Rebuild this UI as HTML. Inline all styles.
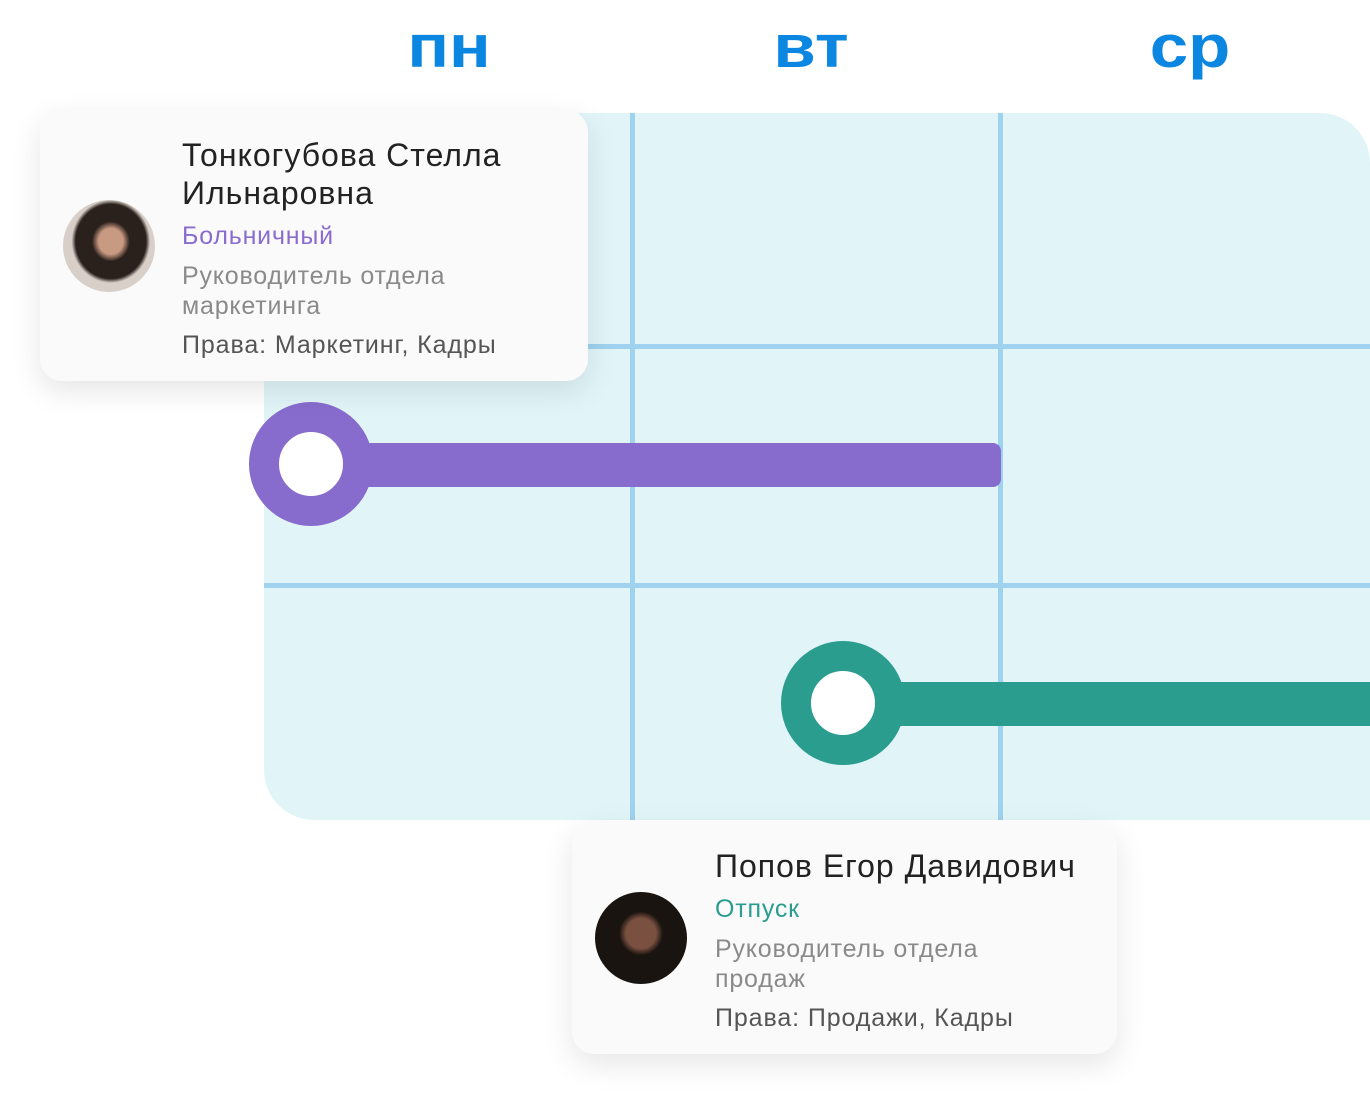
<!DOCTYPE html>
<html><head><meta charset="utf-8"><style>
body{margin:0;width:1370px;height:1096px;background:#fff;position:relative;overflow:hidden;font-family:"Liberation Sans",sans-serif}
.abs{position:absolute}
.day{position:absolute;top:12px;font-size:60px;font-weight:bold;color:#0b87e2;transform:translateX(-50%) scaleX(1.15)}
.card{position:absolute;background:#fafafa;border-radius:22px;box-shadow:0 10px 30px rgba(0,0,0,0.10)}
.t{position:absolute;white-space:nowrap}
.name{font-size:32px;color:#222;line-height:38px;letter-spacing:1px}
.st{font-size:25px;letter-spacing:0.8px}
.g{font-size:25px;color:#8a8a8a;line-height:30px;letter-spacing:0.8px}
.p{font-size:25px;color:#555;letter-spacing:0.9px}
.av{position:absolute;width:92px;height:92px;border-radius:50%}
</style></head><body>
<div class="day" style="left:449px">пн</div>
<div class="day" style="left:811px">вт</div>
<div class="day" style="left:1190px">ср</div>
<svg class="abs" style="left:0;top:0" width="1370" height="1096">
<path d="M314 113 H1320 A50 50 0 0 1 1370 163 V820 H314 A50 50 0 0 1 264 770 V113 Z" fill="#e1f5f9"/>
<rect x="630" y="113" width="5" height="707" fill="#9fd2ef"/>
<rect x="998" y="113" width="5" height="707" fill="#9fd2ef"/>
<rect x="264" y="344" width="1106" height="5" fill="#9fd2ef"/>
<rect x="264" y="583" width="1106" height="5" fill="#9fd2ef"/>
<rect x="311" y="443" width="690" height="44" rx="8" fill="#876ccd"/>
<circle cx="311" cy="464" r="47" fill="#fff" stroke="#876ccd" stroke-width="30"/>
<rect x="843" y="682" width="540" height="44" fill="#2a9d8f"/>
<circle cx="843" cy="703" r="47" fill="#fff" stroke="#2a9d8f" stroke-width="30"/>
</svg>
<div class="card" style="left:40px;top:110px;width:548px;height:271px">
<div class="av" style="left:23px;top:90px;background:radial-gradient(ellipse at 52% 45%,#c99a82 0 18%,#2a201c 28% 52%,#d8cfc8 58%)"></div>
<div class="t name" style="left:142px;top:26px">Тонкогубова Стелла<br>Ильнаровна</div>
<div class="t st" style="left:142px;top:112px;color:#8a6ccf">Больничный</div>
<div class="t g" style="left:142px;top:151px">Руководитель отдела<br>маркетинга</div>
<div class="t p" style="left:142px;top:221px">Права: Маркетинг, Кадры</div>
</div>
<div class="card" style="left:572px;top:822px;width:545px;height:232px">
<div class="av" style="left:23px;top:70px;background:radial-gradient(circle at 50% 45%,#7a5040 0 22%,#1a1410 32%)"></div>
<div class="t name" style="left:143px;top:25px">Попов Егор Давидович</div>
<div class="t st" style="left:143px;top:73px;color:#2a9d8f">Отпуск</div>
<div class="t g" style="left:143px;top:112px">Руководитель отдела<br>продаж</div>
<div class="t p" style="left:143px;top:182px">Права: Продажи, Кадры</div>
</div>
</body></html>
